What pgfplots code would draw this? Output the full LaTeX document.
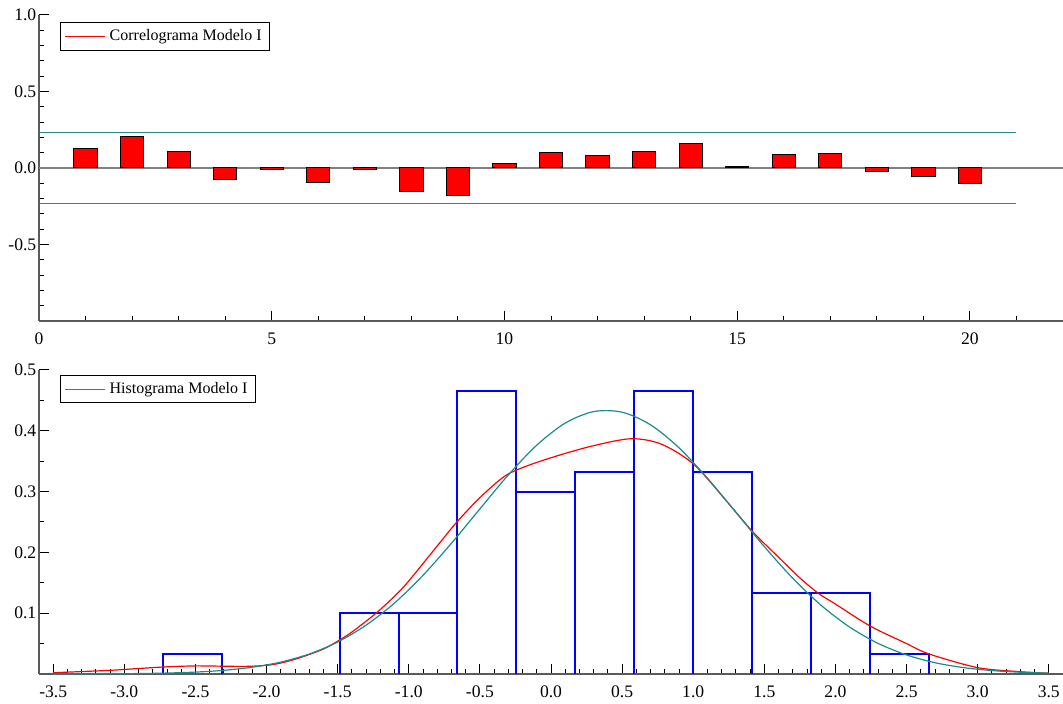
\documentclass[border=0pt]{standalone}
\usepackage{fontspec}
\setmainfont{Liberation Serif}
\usepackage{pgfplots}
\pgfplotsset{compat=1.18}
\definecolor{bandc}{RGB}{40,135,135}
\definecolor{normc}{RGB}{25,140,140}
\definecolor{axc}{RGB}{90,90,90}
\definecolor{histc}{RGB}{0,0,255}

\begin{document}
\begin{tikzpicture}
\fontsize{8}{9.6}\selectfont
\path[use as bounding box] (-19.5pt,7.5pt) rectangle (512pt,-344.5pt);
\pgfplotsset{
  myaxis/.style={
    scale only axis, width=512pt,
    axis x line=bottom, axis y line=left,
    axis line style={-, axc, line width=0.6pt},
    tick align=inside,
    major tick length=5pt, minor tick length=2.5pt,
    every tick/.style={black, line width=0.5pt},
    /pgf/number format/assume math mode=true,
    tick label style={font=\fontsize{8.8}{10}\selectfont},
    yticklabel style={/pgf/number format/.cd, fixed, fixed zerofill, precision=1, /tikz/.cd, xshift=1.5pt},
    xticklabel style={yshift=-3pt},
    legend cell align=left,
    legend image code/.code={\draw[#1] (0pt,0pt) -- (20pt,0pt);},
    legend style={draw=black, line width=0.5pt, font=\fontsize{8}{9.6}\selectfont,
      inner xsep=2pt, inner ysep=1.5pt, anchor=north west},
    clip=false,
  },
  hbin/.style={draw=histc, sharp plot, line width=1pt, forget plot},
}
\begin{axis}[myaxis, at={(0,0)}, anchor=north west, height=153pt,
  xmin=0, xmax=22, ymin=-1, ymax=1,
  xtick={0,5,10,15,20},
  minor xtick={1,2,3,4,6,7,8,9,11,12,13,14,16,17,18,19,21},
  ytick={-0.5,0,0.5,1},
  minor ytick={-0.9,-0.8,-0.7,-0.6,-0.4,-0.3,-0.2,-0.1,0.1,0.2,0.3,0.4,0.6,0.7,0.8,0.9},
  legend style={at={(0.0205,0.977)}},
]
\addlegendimage{red, line width=0.6pt}
\addlegendentry{Correlograma Modelo I}
\addplot[gray, line width=0.6pt, forget plot] coordinates {(0,0) (22,0)};
\addplot[bandc, line width=0.55pt, forget plot] coordinates {(0,0.23) (21,0.23)};
\addplot[bandc, line width=0.55pt, forget plot] coordinates {(0,-0.23) (21,-0.23)};
\addplot[ybar, bar width=0.5, fill=red, draw=black, line width=0.5pt, forget plot] coordinates {
(1,0.125) (2,0.204) (3,0.105) (4,-0.077) (5,-0.011) (6,-0.094) (7,-0.009) (8,-0.156) (9,-0.182) (10,0.029)
(11,0.099) (12,0.079) (13,0.110) (14,0.160) (15,0.007) (16,0.088) (17,0.094) (18,-0.026) (19,-0.055) (20,-0.103)
};
\end{axis}

\begin{axis}[myaxis, at={(0,-177.5pt)}, anchor=north west, height=152pt,
  xmin=-3.6, xmax=3.6, ymin=0, ymax=0.5,
  xtick={-3.5,-3,...,3.5},
  xticklabel style={/pgf/number format/.cd, fixed, fixed zerofill, precision=1},
  minor x tick num=4,
  ytick={0.1,0.2,0.3,0.4,0.5},
  minor ytick={0.05,0.15,0.25,0.35,0.45},
  legend style={at={(0.0205,0.984)}},
]
\addlegendimage{normc, line width=0.6pt}
\addlegendentry{Histograma Modelo I}
% histogram bins (edges, height)
\addplot[hbin] coordinates {(-2.729,0) (-2.729,0.0332) (-2.315,0.0332) (-2.315,0)};
\addplot[hbin] coordinates {(-1.486,0) (-1.486,0.0996) (-1.072,0.0996) (-1.072,0)};
\addplot[hbin] coordinates {(-1.072,0) (-1.072,0.0996) (-0.658,0.0996) (-0.658,0)};
\addplot[hbin] coordinates {(-0.658,0) (-0.658,0.465) (-0.243,0.465) (-0.243,0)};
\addplot[hbin] coordinates {(-0.243,0) (-0.243,0.299) (0.171,0.299) (0.171,0)};
\addplot[hbin] coordinates {(0.171,0) (0.171,0.332) (0.585,0.332) (0.585,0)};
\addplot[hbin] coordinates {(0.585,0) (0.585,0.465) (1.000,0.465) (1.000,0)};
\addplot[hbin] coordinates {(1.000,0) (1.000,0.332) (1.414,0.332) (1.414,0)};
\addplot[hbin] coordinates {(1.414,0) (1.414,0.1328) (1.828,0.1328) (1.828,0)};
\addplot[hbin] coordinates {(1.828,0) (1.828,0.1328) (2.243,0.1328) (2.243,0)};
\addplot[hbin] coordinates {(2.243,0) (2.243,0.0332) (2.657,0.0332) (2.657,0)};
\addplot[red, smooth, line width=0.6pt, forget plot] coordinates {
(-3.5,0.002) (-3.3,0.004) (-3.1,0.006) (-2.9,0.009) (-2.7,0.0118) (-2.5,0.0133) (-2.3,0.0128)
(-2.15,0.0125) (-2.0,0.0142) (-1.9,0.018) (-1.775,0.026) (-1.6,0.041) (-1.486,0.056) (-1.4,0.069)
(-1.232,0.0996) (-1.1,0.128) (-1.0,0.153) (-0.764,0.221) (-0.657,0.2513) (-0.5,0.29) (-0.324,0.3256)
(-0.16,0.343) (0.074,0.361) (0.308,0.376) (0.565,0.387) (0.776,0.378) (1.003,0.345) (1.244,0.2817)
(1.414,0.235) (1.6,0.192) (1.75,0.158) (1.881,0.1325) (2.0,0.115) (2.243,0.079) (2.5,0.05)
(2.657,0.033) (3.0,0.0104) (3.285,0.004) (3.5,0.001)
};
\addplot[normc, smooth, line width=0.6pt, forget plot] coordinates {
(-3.5,0.0001) (-3.3,0.00014) (-3.1,0.00033) (-2.9,0.00072) (-2.7,0.00154) (-2.5,0.00312) (-2.3,0.00603)
(-2.1,0.01113) (-1.9,0.01958) (-1.7,0.03288) (-1.5,0.05258) (-1.3,0.0803) (-1.1,0.1168) (-0.9,0.1623)
(-0.7,0.2150) (-0.5,0.2716) (-0.3,0.3274) (-0.1,0.3764) (0.1,0.4127) (0.3,0.4316) (0.5,0.4306)
(0.7,0.4098) (0.9,0.3720) (1.1,0.3220) (1.3,0.2659) (1.5,0.2095) (1.7,0.1574) (1.9,0.1128)
(2.1,0.0771) (2.3,0.0503) (2.5,0.0313) (2.7,0.0185) (2.9,0.0105) (3.1,0.00566) (3.3,0.00292) (3.5,0.00143)
};
\end{axis}
\end{tikzpicture}
\end{document}
